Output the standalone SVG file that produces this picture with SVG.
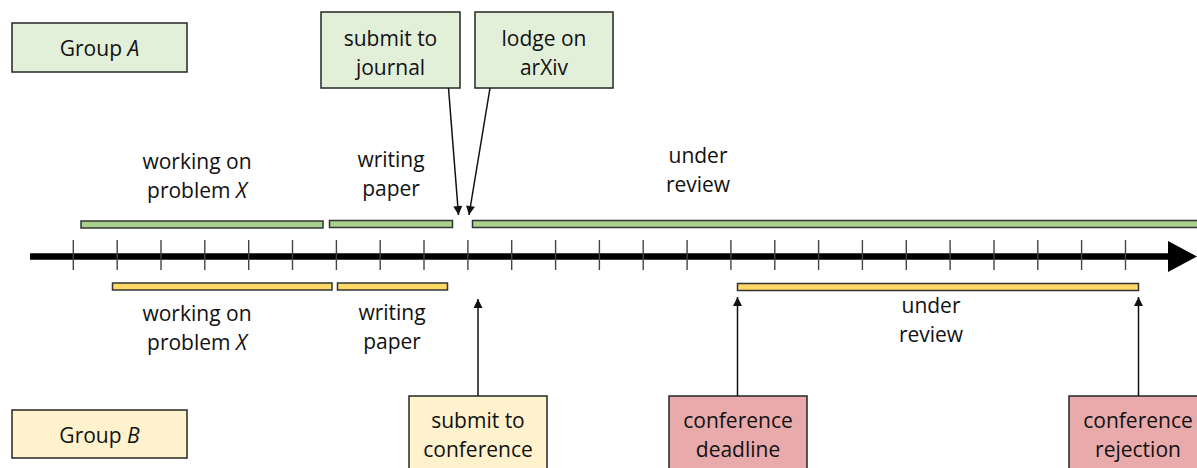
<svg xmlns="http://www.w3.org/2000/svg" width="1197" height="468" viewBox="0 0 1197 468">
<style>
text{font-family:"Open Sans","Noto Sans","Liberation Sans",sans-serif;font-size:21px;fill:#111;text-anchor:middle}
.gbox{fill:#E2EFD9;stroke:#262626;stroke-width:1.5}
.ybox{fill:#FFF2CC;stroke:#262626;stroke-width:1.5}
.rbox{fill:#E8AAAA;stroke:#262626;stroke-width:1.5}
.gbar{fill:#A9D18E;stroke:#333;stroke-width:1.5}
.ybar{fill:#FFD966;stroke:#333;stroke-width:1.5}
.tick{stroke:#444;stroke-width:1.4}
.conn{stroke:#111;stroke-width:1.5;fill:none;marker-end:url(#ah)}
</style>
<defs>
<marker id="ah" viewBox="0 0 10 10" refX="10" refY="5" markerUnits="userSpaceOnUse" markerWidth="10" markerHeight="9" orient="auto">
<path d="M0,0 L10,5 L0,10 z" fill="#111"/>
</marker>
</defs>
<rect width="1197" height="468" fill="#fff"/>

<g id="axis">
<line x1="30" y1="256.5" x2="1170" y2="256.5" stroke="#000" stroke-width="6.5"/>
<polygon points="1168,241 1197,256.5 1168,272" fill="#000"/>
<g class="tick">
<line x1="73.3" y1="240" x2="73.3" y2="270"/>
<line x1="117.2" y1="240" x2="117.2" y2="270"/>
<line x1="161" y1="240" x2="161" y2="270"/>
<line x1="204.8" y1="240" x2="204.8" y2="270"/>
<line x1="248.7" y1="240" x2="248.7" y2="270"/>
<line x1="292.5" y1="240" x2="292.5" y2="270"/>
<line x1="336.4" y1="240" x2="336.4" y2="270"/>
<line x1="380.2" y1="240" x2="380.2" y2="270"/>
<line x1="424" y1="240" x2="424" y2="270"/>
<line x1="467.9" y1="240" x2="467.9" y2="270"/>
<line x1="511.7" y1="240" x2="511.7" y2="270"/>
<line x1="555.6" y1="240" x2="555.6" y2="270"/>
<line x1="599.4" y1="240" x2="599.4" y2="270"/>
<line x1="643.2" y1="240" x2="643.2" y2="270"/>
<line x1="687.1" y1="240" x2="687.1" y2="270"/>
<line x1="730.9" y1="240" x2="730.9" y2="270"/>
<line x1="774.8" y1="240" x2="774.8" y2="270"/>
<line x1="818.6" y1="240" x2="818.6" y2="270"/>
<line x1="862.4" y1="240" x2="862.4" y2="270"/>
<line x1="906.3" y1="240" x2="906.3" y2="270"/>
<line x1="950.1" y1="240" x2="950.1" y2="270"/>
<line x1="994" y1="240" x2="994" y2="270"/>
<line x1="1037.8" y1="240" x2="1037.8" y2="270"/>
<line x1="1081.6" y1="240" x2="1081.6" y2="270"/>
<line x1="1125.5" y1="240" x2="1125.5" y2="270"/>
</g>
</g>

<g id="bars-a">
<rect class="gbar" x="81" y="221" width="242" height="7"/>
<rect class="gbar" x="329.5" y="220.5" width="123" height="7"/>
<rect class="gbar" x="472.5" y="220.5" width="730" height="7"/>
</g>
<g id="bars-b">
<rect class="ybar" x="112.5" y="283" width="219.5" height="7"/>
<rect class="ybar" x="337.5" y="283" width="110" height="7"/>
<rect class="ybar" x="737.5" y="283.5" width="401" height="7"/>
</g>

<g id="labels-a">
<text x="197" y="169">working on</text><text x="197" y="198">problem <tspan font-style="italic">X</tspan></text>
<text x="391" y="167">writing</text><text x="391" y="196">paper</text>
<text x="698" y="163">under</text><text x="698" y="192">review</text>
</g>
<g id="labels-b">
<text x="197" y="321">working on</text><text x="197" y="350">problem <tspan font-style="italic">X</tspan></text>
<text x="392" y="320">writing</text><text x="392" y="349">paper</text>
<text x="931" y="313">under</text><text x="931" y="342">review</text>
</g>

<g id="group-a">
<rect class="gbox" x="12" y="23" width="175" height="49"/>
<text x="99.5" y="56">Group <tspan font-style="italic">A</tspan></text>
</g>
<g id="submit-journal">
<rect class="gbox" x="321" y="12" width="139" height="76"/>
<text x="390.5" y="46">submit to</text><text x="390.5" y="75">journal</text>
</g>
<g id="lodge-arxiv">
<rect class="gbox" x="475" y="12" width="138" height="76"/>
<text x="544" y="46">lodge on</text><text x="544" y="75">arXiv</text>
</g>
<g id="group-b">
<rect class="ybox" x="12" y="410" width="175" height="48"/>
<text x="99.5" y="443">Group <tspan font-style="italic">B</tspan></text>
</g>
<g id="submit-conference">
<rect class="ybox" x="409" y="396" width="138" height="76"/>
<text x="478" y="428">submit to</text><text x="478" y="457">conference</text>
</g>
<g id="conf-deadline">
<rect class="rbox" x="669" y="396" width="138" height="76"/>
<text x="738" y="428">conference</text><text x="738" y="457">deadline</text>
</g>
<g id="conf-rejection">
<rect class="rbox" x="1069" y="396" width="138" height="76"/>
<text x="1138" y="428">conference</text><text x="1138" y="457">rejection</text>
</g>

<g id="connectors">
<line class="conn" x1="448.5" y1="88" x2="458.5" y2="215"/>
<line class="conn" x1="490" y1="88" x2="469" y2="215"/>
<line class="conn" x1="478" y1="396" x2="478" y2="299"/>
<line class="conn" x1="737.5" y1="396" x2="737.5" y2="297"/>
<line class="conn" x1="1138.5" y1="396" x2="1138.5" y2="297"/>
</g>
</svg>
